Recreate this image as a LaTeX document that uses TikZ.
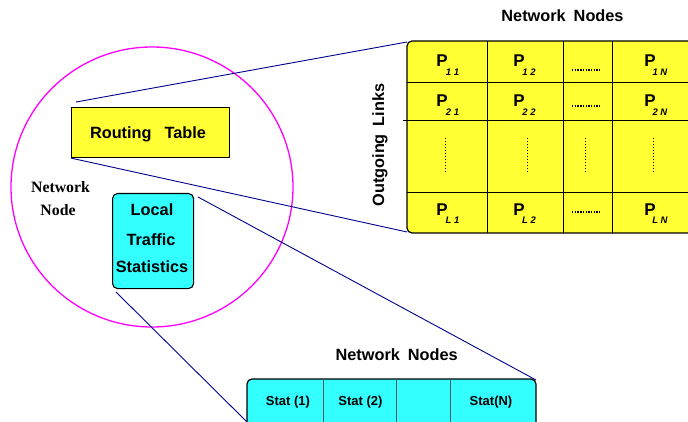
\documentclass[tikz,border=0pt]{standalone}
\usepackage{fontspec}
\setmainfont{Liberation Sans}
\newfontfamily\serifbold{Liberation Serif}
\definecolor{ylw}{RGB}{255,255,51}
\definecolor{cyn}{RGB}{51,255,255}
\definecolor{mag}{RGB}{255,0,255}
\definecolor{navy}{RGB}{0,0,140}
\begin{document}
\begin{tikzpicture}[x=1pt,y=-1pt,
  txt/.style={font=\fontsize{16.3}{18}\selectfont\bfseries, inner sep=0pt, anchor=base},
  sertxt/.style={font=\serifbold\fontsize{15.8}{18}\selectfont\bfseries, inner sep=0pt, anchor=base},
  ptxt/.style={font=\fontsize{17}{18}\selectfont\bfseries, inner sep=0pt, anchor=base},
  subtxt/.style={font=\fontsize{9.5}{10}\selectfont\bfseries\itshape, inner sep=0pt, anchor=base},
  stattxt/.style={font=\fontsize{13}{15}\selectfont\bfseries, inner sep=0pt, anchor=base},
  conn/.style={draw=navy, line width=0.9pt},
  grid/.style={draw=black, line width=0.8pt},
  hdots/.style={line width=1.5pt, dash pattern=on 1.4pt off 1.3pt},
  vdots/.style={line width=0.6pt, dash pattern=on 0.9pt off 2.1pt}]
\useasboundingbox (0,0) rectangle (688,422);
\begin{scope}
\clip (0,0) rectangle (688,422);
% network node circle
\draw[mag, line width=1.3pt] (152,187) ellipse [x radius=141, y radius=140];
\node[sertxt] (nn1) at (60.5,192.7) {Network};
\node[sertxt] (nn2) at (58,215.7) {Node};
% routing table
\node[draw, line width=1.1pt, fill=ylw, minimum width=158, minimum height=50, anchor=north west, inner sep=0pt] (rt) at (71,107) {};
\node[txt] (rtl) at (148,139) {Routing\hspace{13pt}Table};
% local traffic statistics
\node[draw, line width=1.1pt, fill=cyn, rounded corners=5pt, minimum width=81, minimum height=95, anchor=north west, inner sep=0pt] (lts) at (112,193) {};
\node[txt] (l1) at (152,215) {Local};
\node[txt] (l2) at (151,245.5) {Traffic};
\node[txt] (l3) at (152,272.7) {Statistics};
% matrix
\draw[line width=1.2pt, fill=ylw, rounded corners=5pt] (407,41) rectangle (720,233);
\coordinate (mTL) at (407,42);
\coordinate (mBL) at (407,232);
\foreach \x in {487,563,612} \draw[grid] (\x,41) -- (\x,233);
\foreach \y in {82,120,192} \draw[grid] (407,\y) -- (720,\y);
\draw[grid] (403,120) -- (407,120);
% row 1
\node[ptxt] (p11) at (442,67) {P};  \node[subtxt] (s11) at (452.5,76) {1\hspace{2.5pt}1};
\node[ptxt] (p12) at (519,67) {P};  \node[subtxt] (s12) at (529,76) {1\hspace{2.5pt}2};
\node[ptxt] (p1n) at (650,67) {P};  \node[subtxt] (s1n) at (660,76) {1\hspace{2.5pt}N};
\draw[hdots] (572,70) -- (601,70);
% row 2
\node[ptxt] (p21) at (442,107) {P};  \node[subtxt] (s21) at (452.5,116) {2\hspace{2.5pt}1};
\node[ptxt] (p22) at (519,107) {P};  \node[subtxt] (s22) at (529,116) {2\hspace{2.5pt}2};
\node[ptxt] (p2n) at (650,107) {P};  \node[subtxt] (s2n) at (660,116) {2\hspace{2.5pt}N};
\draw[hdots] (572,106) -- (601,106);
% middle row
\foreach \x in {445,527,585,653} \draw[vdots] (\x,138) -- (\x,172);
% row L
\node[ptxt] (pl1) at (442,215) {P};  \node[subtxt] (sl1) at (452.5,223.5) {L\hspace{2.5pt}1};
\node[ptxt] (pl2) at (519,215) {P};  \node[subtxt] (sl2) at (529,223.5) {L\hspace{2.5pt}2};
\node[ptxt] (pln) at (650,215) {P};  \node[subtxt] (sln) at (660,223.5) {L\hspace{2.5pt}N};
\draw[hdots] (572,212) -- (601,212);
\node[txt] (nt1) at (562.5,21.7) {Network\hspace{8pt}Nodes};
\node[font=\fontsize{16.3}{18}\selectfont\bfseries, inner sep=0pt, rotate=90] (ol) at (380,145) {Outgoing\hspace{8pt}Links};
% stat box
\draw[line width=1.2pt, fill=cyn, rounded corners=5pt] (247,379) rectangle (536,440);
\coordinate (sTR) at (536,380);
\coordinate (sBL) at (247,422);
\foreach \x in {323,396,450} \draw[grid, draw=black!70!cyan] (\x,379) -- (\x,440);
\node[stattxt] (st1) at (288,405) {Stat (1)};
\node[stattxt] (st2) at (360.5,405) {Stat (2)};
\node[stattxt] (stn) at (491,405) {Stat(N)};
\node[txt] (nt2) at (396.7,360.7) {Network\hspace{8pt}Nodes};
% connectors
\coordinate (rtA) at (76,102);
\coordinate (ltA) at (198,197);
\coordinate (ltB) at (116,292);
\draw[conn] (rtA) -- (mTL);
\draw[conn] (rt.south west) -- (mBL);
\draw[conn] (ltA) -- (sTR);
\draw[conn] (ltB) -- (sBL);
\end{scope}
\end{tikzpicture}
\end{document}
